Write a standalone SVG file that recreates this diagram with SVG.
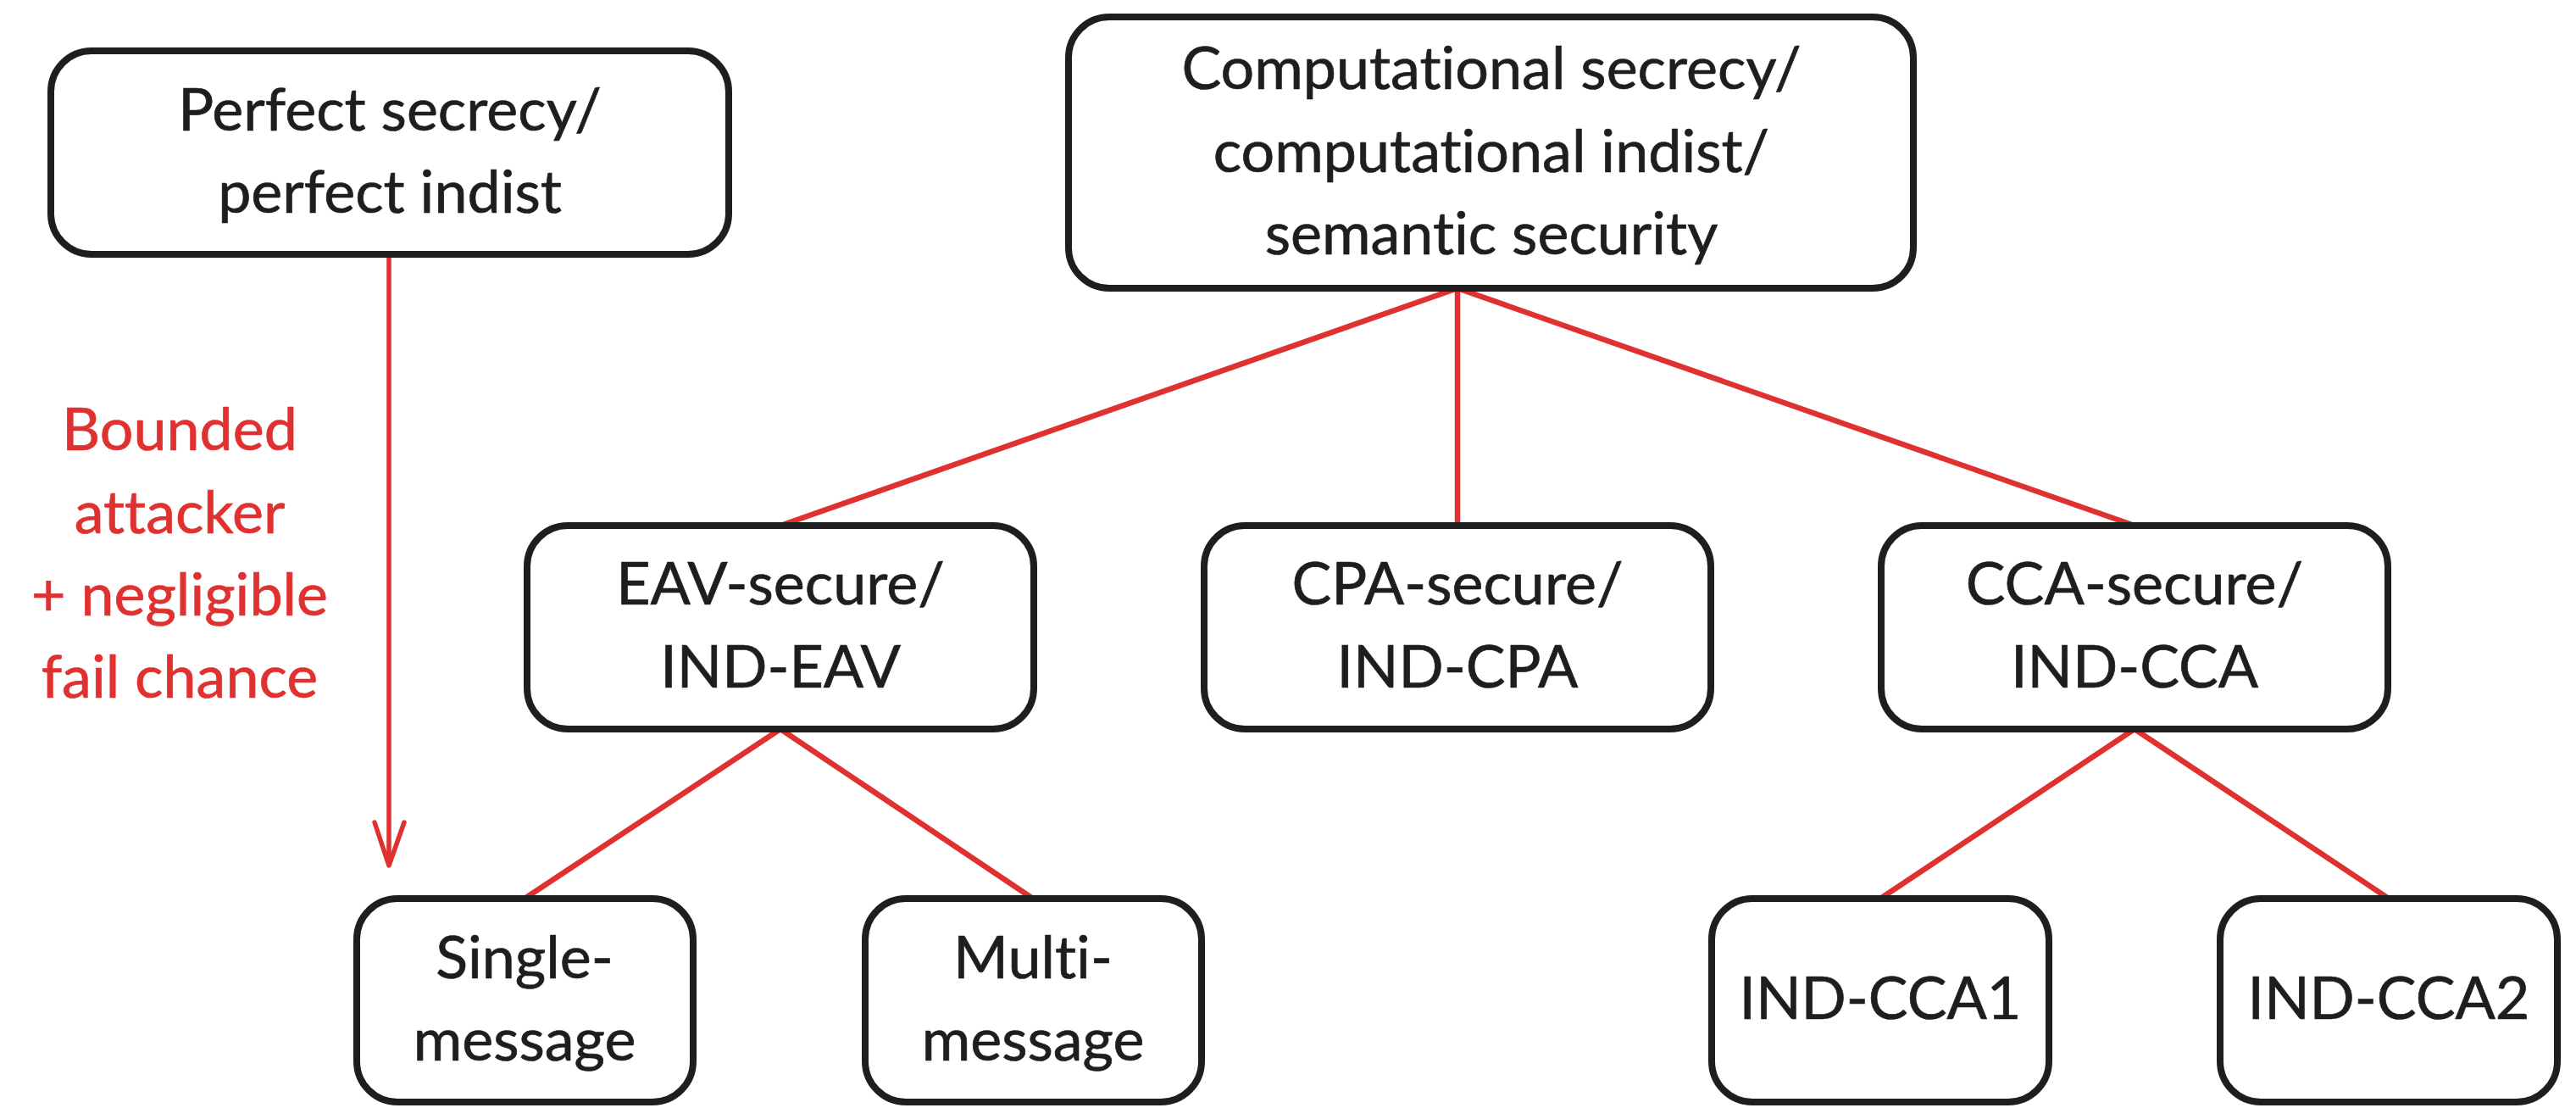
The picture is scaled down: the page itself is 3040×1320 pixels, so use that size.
<svg xmlns="http://www.w3.org/2000/svg" width="3040" height="1320" viewBox="0 0 3040 1320">
<style>
.box{fill:#ffffff;stroke:#1e1e1e;stroke-width:8}
.t{font-family:Lato,"Open Sans","Liberation Sans",sans-serif;font-size:70px;fill:#1e1e1e;stroke:#1e1e1e;stroke-width:0.7;text-anchor:middle;font-variant-ligatures:none}
.lbl{font-family:Lato,"Open Sans","Liberation Sans",sans-serif;font-size:70px;fill:#e03131;stroke:#e03131;stroke-width:0.7;text-anchor:middle;font-variant-ligatures:none}
.edge{stroke:#e03131;stroke-width:6.5;fill:none;stroke-linecap:round;stroke-linejoin:round}
.arr{stroke:#e03131;stroke-width:5.5;fill:none;stroke-linecap:round;stroke-linejoin:round}
</style>
<rect width="3040" height="1320" fill="#ffffff"/>
<g id="connectors">
<line class="edge" x1="1720" y1="340" x2="921" y2="620"/>
<line class="edge" x1="1720" y1="340" x2="1720" y2="620"/>
<line class="edge" x1="1720" y1="340" x2="2519" y2="620"/>
<line class="edge" x1="921" y1="860" x2="619" y2="1060"/>
<line class="edge" x1="921" y1="860" x2="1219" y2="1060"/>
<line class="edge" x1="2519" y1="860" x2="2219" y2="1060"/>
<line class="edge" x1="2519" y1="860" x2="2819" y2="1060"/>
<g id="arrow-bounded">
<line class="arr" x1="459" y1="300" x2="459" y2="1020"/>
<polyline class="arr" points="442,970 459,1021 477,970"/>
<text class="lbl"><tspan x="212" y="531">Bounded</tspan><tspan x="212" y="629">attacker</tspan><tspan x="212" y="726">+ negligible</tspan><tspan x="212" y="823">fail chance</tspan></text>
</g>
</g>
<g id="perfect">
<rect class="box" x="60" y="60" width="800" height="240" rx="48"/>
<text class="t"><tspan x="460" y="154">Perfect secrecy/</tspan><tspan x="460" y="251">perfect indist</tspan></text>
</g>
<g id="computational">
<rect class="box" x="1261" y="20" width="997" height="320" rx="48"/>
<text class="t"><tspan x="1760" y="105">Computational secrecy/</tspan><tspan x="1760" y="203">computational indist/</tspan><tspan x="1760" y="300">semantic security</tspan></text>
</g>
<g id="eav">
<rect class="box" x="622" y="620" width="598" height="240" rx="48"/>
<text class="t"><tspan x="921" y="713">EAV-secure/</tspan><tspan x="921" y="811">IND-EAV</tspan></text>
</g>
<g id="cpa">
<rect class="box" x="1421" y="620" width="598" height="240" rx="48"/>
<text class="t"><tspan x="1720" y="713">CPA-secure/</tspan><tspan x="1720" y="811">IND-CPA</tspan></text>
</g>
<g id="cca">
<rect class="box" x="2220" y="620" width="598" height="240" rx="48"/>
<text class="t"><tspan x="2519" y="713">CCA-secure/</tspan><tspan x="2519" y="811">IND-CCA</tspan></text>
</g>
<g id="single">
<rect class="box" x="421" y="1060" width="397" height="240" rx="48"/>
<text class="t"><tspan x="619" y="1154">Single-</tspan><tspan x="619" y="1251">message</tspan></text>
</g>
<g id="multi">
<rect class="box" x="1021" y="1060" width="397" height="240" rx="48"/>
<text class="t"><tspan x="1219" y="1154">Multi-</tspan><tspan x="1219" y="1251">message</tspan></text>
</g>
<g id="cca1">
<rect class="box" x="2020" y="1060" width="398" height="240" rx="48"/>
<text class="t"><tspan x="2219" y="1202">IND-CCA1</tspan></text>
</g>
<g id="cca2">
<rect class="box" x="2620" y="1060" width="398" height="240" rx="48"/>
<text class="t"><tspan x="2819" y="1202">IND-CCA2</tspan></text>
</g>
</svg>
